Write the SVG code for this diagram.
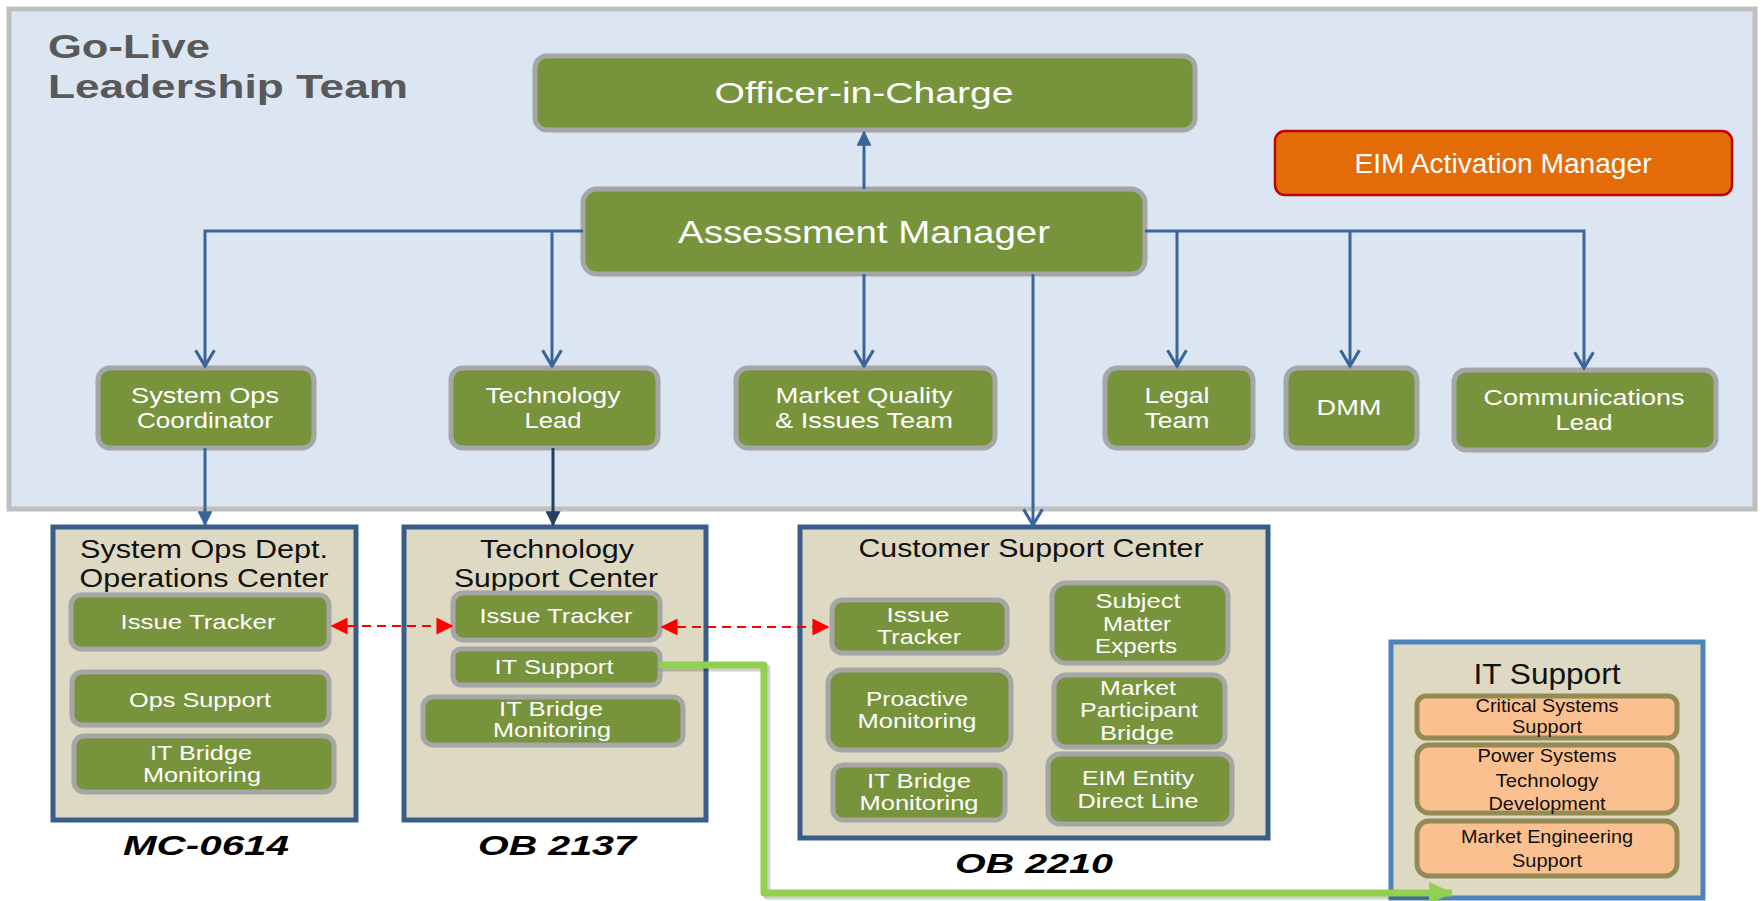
<svg xmlns="http://www.w3.org/2000/svg" width="1764" height="901" viewBox="0 0 1764 901">
<style>
text{font-family:"Liberation Sans",Arial,sans-serif;text-anchor:middle}
text.st{text-anchor:start}
.g{fill:#77933c;stroke:#a6a6a6;stroke-width:5}
.w{fill:#ffffff}
.k{fill:#111111}
.bx{fill:#ddd9c3;stroke:#385d8a;stroke-width:5}
.or{fill:#fac090;stroke:#948a54;stroke-width:5}
.c{fill:none;stroke:#3a6598;stroke-width:3}
.lbl{font-weight:bold;font-style:italic;font-size:27px;fill:#000}
</style>
<defs>
<marker id="open" markerUnits="userSpaceOnUse" markerWidth="22" markerHeight="22" viewBox="0 0 12 14" refX="11" refY="7" orient="auto">
<path d="M1,1 L11,7 L1,13" fill="none" stroke="#3a6598" stroke-width="2"/>
</marker>
<marker id="fill" markerUnits="userSpaceOnUse" markerWidth="15" markerHeight="15" viewBox="0 0 12 12" refX="11" refY="6" orient="auto">
<path d="M0,0 L12,6 L0,12 z" fill="#3a6598"/>
</marker>
<marker id="filld" markerUnits="userSpaceOnUse" markerWidth="15" markerHeight="15" viewBox="0 0 12 12" refX="11" refY="6" orient="auto">
<path d="M0,0 L12,6 L0,12 z" fill="#243f60"/>
</marker>
<marker id="red" markerUnits="userSpaceOnUse" markerWidth="17" markerHeight="17" viewBox="0 0 12 12" refX="11" refY="6" orient="auto-start-reverse">
<path d="M0,0 L12,6 L0,12 z" fill="#ff0000"/>
</marker>
<marker id="grn" markerUnits="userSpaceOnUse" markerWidth="24" markerHeight="22" viewBox="0 0 24 22" refX="23" refY="11" orient="auto">
<path d="M0,0 L24,11 L0,22 z" fill="#92d050"/>
</marker>
</defs>

<g id="panel">
<rect x="9" y="9" width="1746" height="500" fill="#dce6f2" stroke="#bfbfbf" stroke-width="5"/>
<text class="st" x="48" y="58" font-size="33" font-weight="bold" fill="#595959" textLength="162" lengthAdjust="spacingAndGlyphs">Go-Live</text>
<text class="st" x="48" y="98" font-size="33" font-weight="bold" fill="#595959" textLength="360" lengthAdjust="spacingAndGlyphs">Leadership  Team</text>
</g>

<g id="officer">
<rect class="g" x="535" y="56" width="660" height="74" rx="12"/>
<text class="w" x="864" y="103" font-size="30" textLength="299" lengthAdjust="spacingAndGlyphs">Officer-in-Charge</text>
</g>
<g id="assessment">
<rect class="g" x="583" y="189" width="562" height="85" rx="14"/>
<text class="w" x="864" y="243" font-size="32" textLength="372" lengthAdjust="spacingAndGlyphs">Assessment Manager</text>
</g>
<g id="eim">
<rect x="1275" y="131" width="457" height="64" rx="10" fill="#e36c09" stroke="#c00000" stroke-width="2.5"/>
<text class="w" x="1503" y="173" font-size="27" textLength="297" lengthAdjust="spacingAndGlyphs">EIM Activation Manager</text>
</g>

<g id="sysopscoord">
<rect class="g" x="98" y="368" width="216" height="80" rx="12"/>
<text class="w" x="205" y="403" font-size="22" textLength="148" lengthAdjust="spacingAndGlyphs">System Ops</text>
<text class="w" x="205" y="428" font-size="22" textLength="136" lengthAdjust="spacingAndGlyphs">Coordinator</text>
</g>
<g id="techlead">
<rect class="g" x="451" y="368" width="207" height="80" rx="12"/>
<text class="w" x="553" y="403" font-size="22" textLength="135" lengthAdjust="spacingAndGlyphs">Technology</text>
<text class="w" x="553" y="428" font-size="22" textLength="57" lengthAdjust="spacingAndGlyphs">Lead</text>
</g>
<g id="marketquality">
<rect class="g" x="736" y="368" width="259" height="80" rx="12"/>
<text class="w" x="864" y="403" font-size="22" textLength="177" lengthAdjust="spacingAndGlyphs">Market Quality</text>
<text class="w" x="864" y="428" font-size="22" textLength="178" lengthAdjust="spacingAndGlyphs">&amp; Issues Team</text>
</g>
<g id="legal">
<rect class="g" x="1105" y="368" width="148" height="80" rx="12"/>
<text class="w" x="1177" y="403" font-size="22" textLength="65" lengthAdjust="spacingAndGlyphs">Legal</text>
<text class="w" x="1177" y="428" font-size="22" textLength="65" lengthAdjust="spacingAndGlyphs">Team</text>
</g>
<g id="dmm">
<rect class="g" x="1286" y="368" width="131" height="80" rx="12"/>
<text class="w" x="1349" y="415" font-size="22" textLength="65" lengthAdjust="spacingAndGlyphs">DMM</text>
</g>
<g id="comm">
<rect class="g" x="1454" y="370" width="262" height="80" rx="12"/>
<text class="w" x="1584" y="405" font-size="22" textLength="201" lengthAdjust="spacingAndGlyphs">Communications</text>
<text class="w" x="1584" y="430" font-size="22" textLength="57" lengthAdjust="spacingAndGlyphs">Lead</text>
</g>

<g id="sysopsdept">
<rect class="bx" x="53" y="527" width="303" height="293"/>
<text class="k" x="204" y="558" font-size="25" textLength="248" lengthAdjust="spacingAndGlyphs">System Ops Dept.</text>
<text class="k" x="204" y="587" font-size="25" textLength="249" lengthAdjust="spacingAndGlyphs">Operations Center</text>
<rect class="g" x="71" y="595" width="258" height="54" rx="10"/>
<text class="w" x="198" y="629" font-size="21" textLength="155" lengthAdjust="spacingAndGlyphs">Issue Tracker</text>
<rect class="g" x="72" y="672" width="257" height="53" rx="10"/>
<text class="w" x="200" y="707" font-size="21" textLength="142" lengthAdjust="spacingAndGlyphs">Ops Support</text>
<rect class="g" x="74" y="736" width="260" height="56" rx="10"/>
<text class="w" x="201" y="760" font-size="21" textLength="102" lengthAdjust="spacingAndGlyphs">IT Bridge</text>
<text class="w" x="202" y="782" font-size="21" textLength="118" lengthAdjust="spacingAndGlyphs">Monitoring</text>
</g>

<g id="techsupport">
<rect class="bx" x="404" y="527" width="302" height="293"/>
<text class="k" x="557" y="558" font-size="25" textLength="154" lengthAdjust="spacingAndGlyphs">Technology</text>
<text class="k" x="556" y="587" font-size="25" textLength="204" lengthAdjust="spacingAndGlyphs">Support Center</text>
<rect class="g" x="453" y="593" width="207" height="47" rx="10"/>
<text class="w" x="556" y="623" font-size="21" textLength="153" lengthAdjust="spacingAndGlyphs">Issue Tracker</text>
<rect class="g" x="453" y="649" width="207" height="36" rx="8"/>
<text class="w" x="554" y="674" font-size="21" textLength="119" lengthAdjust="spacingAndGlyphs">IT Support</text>
<rect class="g" x="423" y="697" width="260" height="48" rx="10"/>
<text class="w" x="551" y="716" font-size="21" textLength="104" lengthAdjust="spacingAndGlyphs">IT Bridge</text>
<text class="w" x="552" y="737" font-size="21" textLength="118" lengthAdjust="spacingAndGlyphs">Monitoring</text>
</g>

<g id="customersupport">
<rect class="bx" x="800" y="527" width="468" height="311"/>
<text class="k" x="1031" y="557" font-size="25" textLength="345" lengthAdjust="spacingAndGlyphs">Customer Support Center</text>
<rect class="g" x="832" y="600" width="175" height="53" rx="10"/>
<text class="w" x="918" y="622" font-size="21" textLength="63" lengthAdjust="spacingAndGlyphs">Issue</text>
<text class="w" x="919" y="644" font-size="21" textLength="84" lengthAdjust="spacingAndGlyphs">Tracker</text>
<rect class="g" x="828" y="670" width="183" height="80" rx="14"/>
<text class="w" x="917" y="706" font-size="21" textLength="102" lengthAdjust="spacingAndGlyphs">Proactive</text>
<text class="w" x="917" y="728" font-size="21" textLength="119" lengthAdjust="spacingAndGlyphs">Monitoring</text>
<rect class="g" x="833" y="765" width="172" height="55" rx="10"/>
<text class="w" x="919" y="788" font-size="21" textLength="104" lengthAdjust="spacingAndGlyphs">IT Bridge</text>
<text class="w" x="919" y="810" font-size="21" textLength="119" lengthAdjust="spacingAndGlyphs">Monitoring</text>
<rect class="g" x="1052" y="583" width="176" height="80" rx="14"/>
<text class="w" x="1138" y="608" font-size="21" textLength="85" lengthAdjust="spacingAndGlyphs">Subject</text>
<text class="w" x="1137" y="631" font-size="21" textLength="68" lengthAdjust="spacingAndGlyphs">Matter</text>
<text class="w" x="1136" y="653" font-size="21" textLength="82" lengthAdjust="spacingAndGlyphs">Experts</text>
<rect class="g" x="1054" y="675" width="171" height="72" rx="12"/>
<text class="w" x="1138" y="695" font-size="21" textLength="76" lengthAdjust="spacingAndGlyphs">Market</text>
<text class="w" x="1139" y="717" font-size="21" textLength="118" lengthAdjust="spacingAndGlyphs">Participant</text>
<text class="w" x="1137" y="740" font-size="21" textLength="74" lengthAdjust="spacingAndGlyphs">Bridge</text>
<rect class="g" x="1048" y="754" width="184" height="70" rx="12"/>
<text class="w" x="1138" y="785" font-size="21" textLength="112" lengthAdjust="spacingAndGlyphs">EIM  Entity</text>
<text class="w" x="1138" y="808" font-size="21" textLength="121" lengthAdjust="spacingAndGlyphs">Direct Line</text>
</g>

<g id="itsupport">
<rect x="1391" y="642" width="312" height="256" fill="#ddd9c3" stroke="#4f81bd" stroke-width="5"/>
<text class="k" x="1547" y="684" font-size="30" textLength="147" lengthAdjust="spacingAndGlyphs">IT Support</text>
<rect class="or" x="1417" y="696" width="260" height="42" rx="9"/>
<text class="k" x="1547" y="712" font-size="19" textLength="143" lengthAdjust="spacingAndGlyphs">Critical Systems</text>
<text class="k" x="1547" y="733" font-size="19" textLength="70" lengthAdjust="spacingAndGlyphs">Support</text>
<rect class="or" x="1417" y="745" width="260" height="68" rx="12"/>
<text class="k" x="1547" y="762" font-size="19" textLength="139" lengthAdjust="spacingAndGlyphs">Power Systems</text>
<text class="k" x="1547" y="787" font-size="19" textLength="103" lengthAdjust="spacingAndGlyphs">Technology</text>
<text class="k" x="1547" y="810" font-size="19" textLength="117" lengthAdjust="spacingAndGlyphs">Development</text>
<rect class="or" x="1417" y="821" width="260" height="55" rx="12"/>
<text class="k" x="1547" y="843" font-size="19" textLength="172" lengthAdjust="spacingAndGlyphs">Market Engineering</text>
<text class="k" x="1547" y="867" font-size="19" textLength="70" lengthAdjust="spacingAndGlyphs">Support</text>
</g>

<g id="labels">
<text class="lbl" x="206" y="855" textLength="166" lengthAdjust="spacingAndGlyphs">MC-0614</text>
<text class="lbl" x="557" y="855" textLength="158" lengthAdjust="spacingAndGlyphs">OB 2137</text>
<text class="lbl" x="1034" y="873" textLength="158" lengthAdjust="spacingAndGlyphs">OB 2210</text>
</g>

<g id="connectors">
<path class="c" d="M864,189 V132" marker-end="url(#fill)"/>
<path class="c" d="M583,231 H205 V366" marker-end="url(#open)"/>
<path class="c" d="M552,231 V366" marker-end="url(#open)"/>
<path class="c" d="M864,274 V366" marker-end="url(#open)"/>
<path class="c" d="M1033,274 V525" marker-end="url(#open)"/>
<path class="c" d="M1145,231 H1584 V368" marker-end="url(#open)"/>
<path class="c" d="M1177,231 V366" marker-end="url(#open)"/>
<path class="c" d="M1350,231 V366" marker-end="url(#open)"/>
<path class="c" d="M205,448 V525" marker-end="url(#fill)"/>
<path d="M553,448 V525" fill="none" stroke="#243f60" stroke-width="3" marker-end="url(#filld)"/>
<path d="M332,626 H452" fill="none" stroke="#ff0000" stroke-width="2" stroke-dasharray="9,6" marker-start="url(#red)" marker-end="url(#red)"/>
<path d="M662,627 H828" fill="none" stroke="#ff0000" stroke-width="2" stroke-dasharray="9,6" marker-start="url(#red)" marker-end="url(#red)"/>
<path d="M662,668 H767 V896 H1440" fill="none" stroke="#000" stroke-opacity="0.18" stroke-width="7" stroke-linejoin="round"/>
<path d="M660,665 H764 V893 H1452" fill="none" stroke="#92d050" stroke-width="7" stroke-linejoin="round" marker-end="url(#grn)"/>
</g>
</svg>
